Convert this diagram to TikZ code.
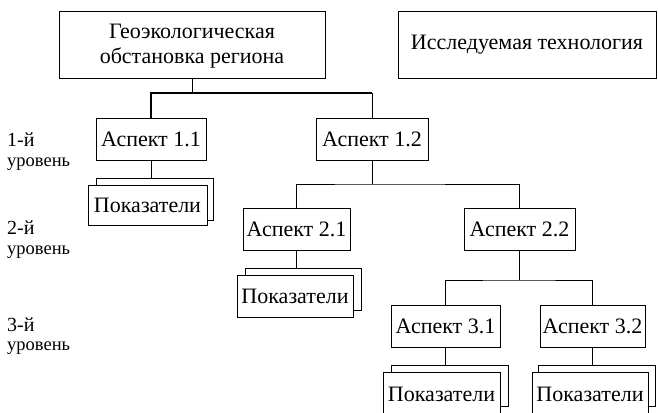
\documentclass[tikz,border=0pt]{standalone}
\usepackage{fontspec}
\setmainfont{Liberation Serif}
\begin{document}
\begin{tikzpicture}[x=1pt,y=-1pt,
  box/.style={draw, line width=0.9pt, fill=white, inner sep=0pt, font=\fontsize{22}{25}\selectfont, align=center},
  back/.style={draw, line width=0.9pt, fill=white, inner sep=0pt},
  conn/.style={line width=0.9pt},
  thickconn/.style={line width=1.6pt},
  lvl/.style={anchor=west, inner sep=0pt, font=\fontsize{20}{22}\selectfont},
  lvlsub/.style={anchor=west, inner sep=0pt, font=\fontsize{18.5}{20}\selectfont}]
\useasboundingbox (0,0) rectangle (658,412);
% top boxes
\node[box, minimum width=266pt, minimum height=67pt, text depth=2pt] (top) at (192,44.5) {Геоэкологическая\\обстановка региона};
\node[box, minimum width=258pt, minimum height=67pt] (tech) at (527,44.5) {Исследуемая технология};
% level 1
\node[box, minimum width=110pt, minimum height=42pt] (a11) at (151,139) {Аспект 1.1};
\node[box, minimum width=112pt, minimum height=42pt] (a12) at (372,139) {Аспект 1.2};
\node[back, minimum width=117pt, minimum height=42pt] (p1b) at (154.5,199) {};
\node[box, minimum width=119pt, minimum height=40pt] (p1) at (147.5,205) {Показатели};
% level 2
\node[box, minimum width=107pt, minimum height=42pt] (a21) at (296.5,229) {Аспект 2.1};
\node[box, minimum width=111pt, minimum height=42pt] (a22) at (519.5,229) {Аспект 2.2};
\node[back, minimum width=116pt, minimum height=42pt] (p2b) at (303,289) {};
\node[box, minimum width=116pt, minimum height=42pt] (p2) at (295,296) {Показатели};
% level 3
\node[box, minimum width=109pt, minimum height=42pt] (a31) at (445.5,326) {Аспект 3.1};
\node[box, minimum width=105pt, minimum height=42pt] (a32) at (592.5,326) {Аспект 3.2};
\node[back, minimum width=117pt, minimum height=41pt] (p31b) at (449.5,385.5) {};
\node[box, minimum width=117pt, minimum height=44pt] (p31) at (441.5,394) {Показатели};
\node[back, minimum width=117pt, minimum height=41pt] (p32b) at (596.5,385.5) {};
\node[box, minimum width=116pt, minimum height=44pt] (p32) at (590,394) {Показатели};
% level labels
\node[lvl] (l1) at (7,140) {1-й};
\node[lvlsub] (l1s) at (7,164) {уровень};
\node[lvl] (l2) at (7,228) {2-й};
\node[lvlsub] (l2s) at (7,252) {уровень};
\node[lvl] (l3) at (7,325) {3-й};
\node[lvlsub] (l3s) at (7,348) {уровень};
% connectors
\coordinate (j1) at (192,93);
\coordinate (j2) at (372,184);
\coordinate (j3) at (519.5,280);
\draw[conn] (top.south) -- (j1);
\draw[thickconn] (a11.north) |- (j1) -- (j1 -| a12.north);
\draw[conn] (j1 -| a12.north) -- (a12.north);
\draw[conn] (a12.south) -- (j2);
\draw[conn] (a21.north) |- (j2) -| (a22.north);
\draw[conn] (a22.south) -- (j3);
\draw[conn] (a31.north) |- (j3) -| (a32.north);
\draw[conn] (a11.south) -- (a11.south |- p1b.north);
\draw[conn] (a21.south) -- (a21.south |- p2b.north);
\draw[conn] (a31.south) -- (a31.south |- p31b.north);
\draw[conn] (a32.south) -- (a32.south |- p32b.north);
\end{tikzpicture}
\end{document}
